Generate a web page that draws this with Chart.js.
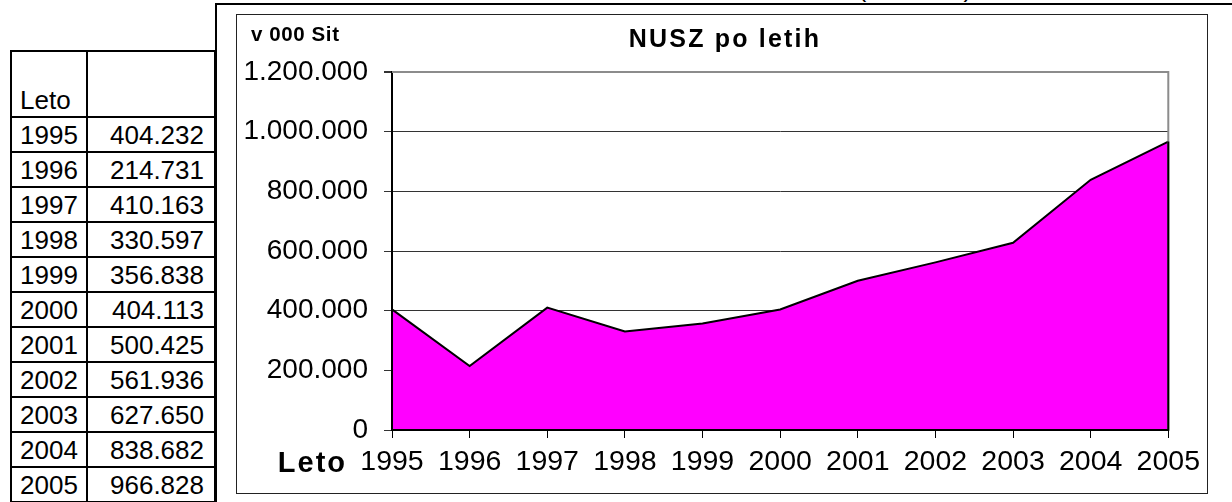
<!DOCTYPE html>
<html>
<head>
<meta charset="utf-8">
<script src="https://cdn.jsdelivr.net/npm/chart.js@4/dist/chart.umd.min.js"></script>
<style>
  html, body { margin: 0; padding: 0; background: #fff; }
  body { width: 1232px; height: 502px; position: relative; overflow: hidden;
         font-family: 'Liberation Sans', Arial, sans-serif; color: #000; }
  .hline { position: absolute; left: 215px; top: 3px; width: 1017px; height: 2px; background: #000; }
  .vline { position: absolute; left: 215px; top: 3px; width: 2px; height: 499px; background: #000; }
  .cut { position: absolute; left: 858px; top: -24px; font-size: 25px; line-height: 25px; white-space: pre; }
  table { position: absolute; left: 10px; top: 50px; border-collapse: collapse; table-layout: fixed;
          font-size: 26px; }
  td { border: 2px solid #000; padding: 0; height: 33px; line-height: 26px; vertical-align: middle; }
  td.y { padding-left: 8px; text-align: left; }
  td.v { padding-right: 10px; text-align: right; }
  tr.head td { height: 61px; vertical-align: bottom; padding-bottom: 3px; }
  #box { position: absolute; left: 236px; top: 14px; width: 972px; height: 480px;
         border: 1px solid #222; box-sizing: border-box; }
  #wrap { position: absolute; left: 0; top: 0; width: 970px; height: 478px; }
</style>
</head>
<body>
<div class="cut">(v 000 Sit)</div>
<div class="hline"></div>
<table id="tbl">
  <col style="width:76px"><col style="width:128px">
  <tr class="head"><td class="y">Leto</td><td class="v"></td></tr>
</table>
<div class="vline"></div>
<div id="box"><div id="wrap"><canvas id="nuszChart"></canvas></div></div>

<script>
const years = ["1995", "1996", "1997", "1998", "1999", "2000", "2001", "2002", "2003", "2004", "2005"];
const nusz = [404232, 214731, 410163, 330597, 356838, 404113, 500425, 561936, 627650, 838682, 966828];
const yMax = 1200000;
const yStep = 200000;

const FONT = "'Liberation Sans', Arial, sans-serif";

// dots as thousands separators
function fmt(v) {
  return String(v).replace(/\B(?=(\d{3})+(?!\d))/g, ".");
}

// table on the left
const tbl = document.getElementById("tbl");
years.forEach((y, i) => {
  const tr = document.createElement("tr");
  tr.innerHTML = `<td class="y">${y}</td><td class="v">${fmt(nusz[i])}</td>`;
  tbl.appendChild(tr);
});

// outline of the area + grey frame top/right, like Excel
const areaFrame = {
  id: "areaFrame",
  afterDatasetsDraw(chart) {
    const { ctx, chartArea: a, scales: { x, y } } = chart;
    const last = nusz.length - 1;
    ctx.save();
    ctx.lineWidth = 2;
    ctx.strokeStyle = "#8c8c8c";
    ctx.beginPath();
    ctx.moveTo(a.left, a.top);
    ctx.lineTo(a.right, a.top);
    ctx.lineTo(a.right, a.bottom);
    ctx.stroke();
    ctx.strokeStyle = "#000";
    ctx.beginPath();
    ctx.moveTo(x.getPixelForValue(0), y.getPixelForValue(nusz[0]));
    ctx.lineTo(x.getPixelForValue(0), y.getPixelForValue(0));
    ctx.lineTo(x.getPixelForValue(last), y.getPixelForValue(0));
    ctx.lineTo(x.getPixelForValue(last), y.getPixelForValue(nusz[last]));
    ctx.stroke();
    ctx.restore();
  }
};

// unit, title and axis name
const labels = {
  id: "labels",
  afterDraw(chart) {
    const { ctx, chartArea: a, scales: { x } } = chart;
    ctx.save();
    ctx.fillStyle = "#000";
    ctx.textBaseline = "alphabetic";

    ctx.font = "bold 20.5px " + FONT;
    ctx.letterSpacing = "0.6px";
    ctx.textAlign = "left";
    ctx.fillText("v 000 Sit", 14, 26);

    ctx.font = "bold 25px " + FONT;
    ctx.letterSpacing = "2.2px";
    ctx.textAlign = "center";
    ctx.fillText("NUSZ po letih", 488, 32);

    ctx.font = "bold 29px " + FONT;
    ctx.letterSpacing = "2px";
    ctx.textAlign = "right";
    ctx.fillText("Leto", x.getPixelForValue(0) - 45, a.bottom + 42);
    ctx.restore();
  }
};

const ctx = document.getElementById("nuszChart").getContext("2d");
new Chart(ctx, {
  type: "line",
  data: {
    labels: years,
    datasets: [{
      label: "NUSZ",
      data: nusz,
      fill: "origin",
      backgroundColor: "#ff00ff",
      borderColor: "#000",
      borderWidth: 2,
      pointRadius: 0,
      tension: 0
    }]
  },
  options: {
    responsive: true,
    maintainAspectRatio: false,
    animation: false,
    layout: { padding: { top: 57, right: 34, left: 0, bottom: 0 } },
    plugins: {
      legend: { display: false },
      tooltip: { enabled: false }
    },
    scales: {
      x: {
        offset: false,
        grid: { drawOnChartArea: false, color: "#000", tickLength: 8 },
        border: { color: "#000", width: 2 },
        ticks: { color: "#000", font: { family: FONT, size: 28.5 }, padding: 7, autoSkip: false, maxRotation: 0 },
        afterFit: s => { s.height = 63; }
      },
      y: {
        min: 0,
        max: yMax,
        grid: {
          color: c => (c.tick && c.tick.value === yMax ? "#8c8c8c" : "#333"),
          lineWidth: c => (c.tick && c.tick.value === yMax ? 2 : 1),
          tickColor: "#333",
          tickLength: 8
        },
        border: { color: "#000", width: 2 },
        ticks: { stepSize: yStep, color: "#000", font: { family: FONT, size: 28 }, padding: 16, callback: v => fmt(v) },
        afterFit: s => { s.width = 155; }
      }
    }
  },
  plugins: [areaFrame, labels]
});
</script>
</body>
</html>
